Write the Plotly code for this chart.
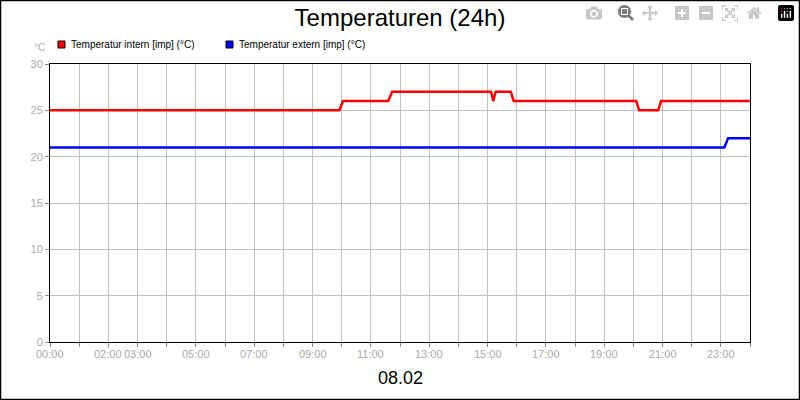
import plotly.graph_objects as go

red_x = [0, 9.92, 10.05, 11.6, 11.73, 15.12, 15.2, 15.28, 15.8, 15.9, 20.1, 20.2, 20.85, 20.95, 24]
red_y = [25, 25, 26, 26, 27, 27, 26, 27, 27, 26, 26, 25, 25, 26, 26]
blue_x = [0, 23.12, 23.25, 24]
blue_y = [21, 21, 22, 22]
tick_vals = [0, 2, 3, 5, 7, 9, 11, 13, 15, 17, 19, 21, 23]
tick_text = ["00:00", "02:00", "03:00", "05:00", "07:00", "09:00", "11:00", "13:00", "15:00", "17:00", "19:00", "21:00", "23:00"]
names = ["Temperatur intern [imp] (°C)", "Temperatur extern [imp] (°C)"]
colors = ["#ff0000", "#0000ff"]

fig = go.Figure()
fig.add_trace(go.Scatter(x=red_x, y=red_y, mode="lines", line=dict(color=colors[0], width=2.5), name=names[0]))
fig.add_trace(go.Scatter(x=blue_x, y=blue_y, mode="lines", line=dict(color=colors[1], width=2.5), name=names[1]))

grid = "#c0c0c0"
fig.update_layout(
    width=800, height=400, margin=dict(l=50, r=50, t=64, b=58),
    paper_bgcolor="white", plot_bgcolor="white", showlegend=False,
    font=dict(family="Liberation Sans, Arial", size=11, color="#aaaaaa"),
    title=dict(text="Temperaturen (24h)", x=0.5, xanchor="center", y=0.955, yanchor="middle",
               font=dict(size=24, color="black")),
    xaxis=dict(range=[0, 24], tickvals=list(range(25)), ticktext=["" for _ in range(25)],
               showgrid=True, gridcolor=grid, ticks="outside", ticklen=4, tickcolor="#888",
               showline=True, linecolor="black", linewidth=1, mirror=True, zeroline=False),
    yaxis=dict(range=[0, 30], tickvals=[0, 5, 10, 15, 20, 25, 30], showgrid=True, gridcolor=grid,
               ticks="outside", ticklen=4, tickcolor="#888", showline=True, linecolor="black",
               linewidth=1, mirror=True, zeroline=False, tickfont=dict(size=11, color="#aaaaaa")),
)
for v, t in zip(tick_vals, tick_text):
    fig.add_annotation(x=v, y=0, xref="x", yref="paper", yshift=-4, yanchor="top", text=t, showarrow=False,
                       font=dict(size=11, color="#aaaaaa"))
fig.add_annotation(x=0.5, y=-0.13, xref="paper", yref="paper", text="08.02", showarrow=False,
                   font=dict(size=18, color="black"), yanchor="middle")
fig.add_annotation(x=-0.005, y=1.06, xref="paper", yref="paper", text="°C", showarrow=False,
                   font=dict(size=10, color="#aaaaaa"), xanchor="right", yanchor="middle")
# legend
for i, (n, c) in enumerate(zip(names, colors)):
    x0 = 58 + i * 168
    fig.add_shape(type="rect", xref="paper", yref="paper",
                  x0=(x0 - 50) / 700, x1=(x0 - 43) / 700, y0=(342 - 48) / 278, y1=(342 - 41) / 278,
                  fillcolor=c, line=dict(color="black", width=1))
    fig.add_annotation(x=(x0 - 39) / 700, y=(342 - 44.5) / 278, xref="paper", yref="paper", text=n,
                       showarrow=False, xanchor="left", yanchor="middle", font=dict(size=10, color="black"))
fig.add_shape(type="rect", xref="paper", yref="paper", x0=-49.5 / 700, x1=749.5 / 700, y0=-57.5 / 278,
              y1=341.5 / 278, line=dict(color="black", width=1.5))
fig.write_html("out.html", post_script="document.body.style.margin='0';document.body.style.overflow='hidden';")
